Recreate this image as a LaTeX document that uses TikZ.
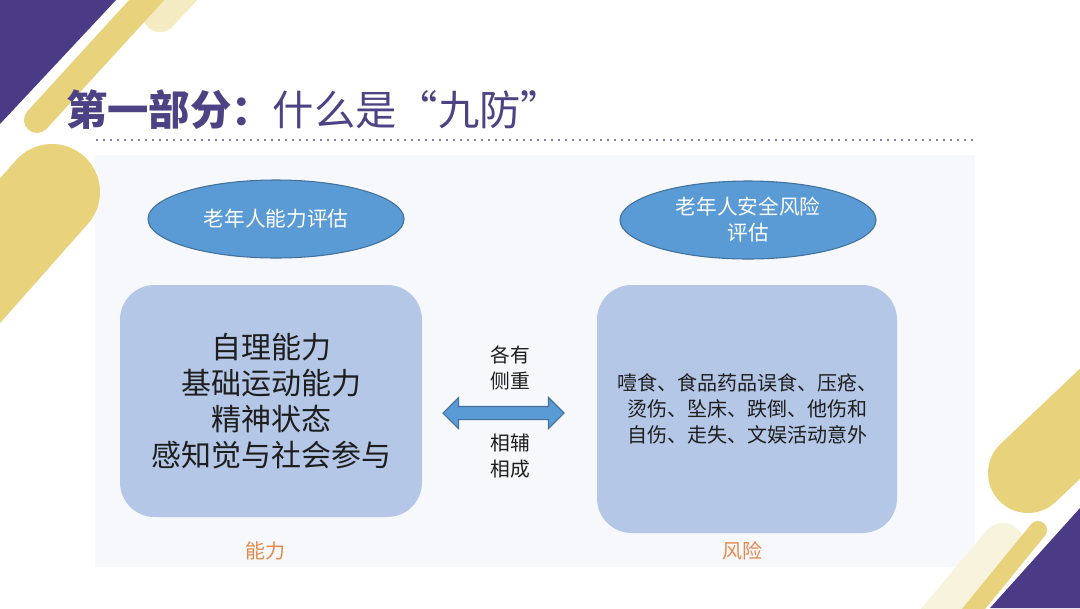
\documentclass[tikz,border=0pt]{standalone}
\usepackage{fontspec}
\setmainfont{Noto Sans CJK SC}
\usetikzlibrary{shapes.geometric,shapes.arrows}
\definecolor{purp}{HTML}{4B3A85}
\definecolor{yel}{HTML}{E8D37C}
\definecolor{paleyel}{HTML}{F4EBC2}
\definecolor{paleryel}{HTML}{F8F3DC}
\definecolor{panel}{HTML}{F7F8FB}
\definecolor{titlec}{HTML}{4D4284}
\definecolor{dotc}{HTML}{55557F}
\definecolor{ellfill}{HTML}{5B9BD5}
\definecolor{elldraw}{HTML}{41719C}
\definecolor{boxfill}{HTML}{B4C7E7}
\definecolor{orangec}{HTML}{E5894A}
\definecolor{textc}{HTML}{1E1E1E}
\tikzset{
  ell/.style={ellipse, fill=ellfill, draw=elldraw, line width=0.8pt, inner sep=0pt,
    minimum width=192pt, minimum height=58.5pt, text=white, align=center,
    font=\fontsize{15.5}{19.5}\selectfont},
  bigbox/.style={rectangle, rounded corners=26pt, fill=boxfill, inner sep=0pt, align=center, text=textc},
  midtext/.style={align=center, text=textc, font=\fontsize{14.8}{19.5}\selectfont},
  lbl/.style={text=orangec, font=\fontsize{15}{18}\selectfont},
  pill/.style={line cap=round}
}
\begin{document}
\begin{tikzpicture}[x=0.75pt,y=-0.75pt]
\useasboundingbox (0,0) rectangle (1080,608);
\fill[white] (0,0) rectangle (1080,608);
% panel
\fill[panel] (95,155) rectangle (975,567);
\begin{scope}
\clip (0,0) rectangle (1080,608);
% top-left decoration
\fill[purp] (0,0) -- (116,0) -- (0,124) -- cycle;
\draw[pill, paleyel, line width=25.5pt] (160,15) -- (240,-70);
\draw[pill, yel, line width=19.5pt] (37,120) -- (165,-20);
\draw[pill, yel, line width=72pt] (52,192) -- (-150,420);
% bottom-right decoration
\draw[pill, yel, line width=60pt] (1028,473) -- (1200,310);
\draw[pill, paleryel, line width=33pt] (1003,545) -- (890,680);
\draw[pill, yel, line width=13.5pt] (1038,530) -- (940,650);
\fill[purp] (1080,508) -- (1080,608) -- (990,608) -- cycle;
\end{scope}
% title and dotted rule
\node[anchor=west, text=titlec, inner sep=0pt, font=\fontsize{31}{34}\selectfont] (title) at (66,110) {\textbf{第一部分：}什么是“九防”};
\draw[dotc, line width=1.8pt, line cap=round, dash pattern=on 0pt off 5.25pt] (97,140) -- (975,140);
% ellipses
\node[ell] (e1) at (276,219) {老年人能力评估};
\node[ell] (e2) at (748,220) {老年人安全风险\\评估};
% boxes
\node[bigbox, minimum width=226.5pt, minimum height=174pt, font=\fontsize{22.5}{27}\selectfont] (b1) at (271,401)
  {自理能力\\基础运动能力\\精神状态\\感知觉与社会参与};
\node[bigbox, minimum width=225pt, minimum height=186pt, font=\fontsize{15}{19.5}\selectfont] (b2) at (747,409)
  {噎食、食品药品误食、压疮、\\烫伤、坠床、跌倒、他伤和\\自伤、走失、文娱活动意外};
% double arrow
\node[double arrow, fill=ellfill, draw=elldraw, line width=0.8pt, inner sep=4.5pt,
  minimum height=90.75pt, double arrow head extend=6.75pt, double arrow tip angle=90] (arr) at (503.5,413) {};
\node[midtext] (t1) at (510,368) {各有\\侧重};
\node[midtext] (t2) at (510,456.5) {相辅\\相成};
% labels
\node[lbl] (l1) at (265,551) {能力};
\node[lbl] (l2) at (742,551) {风险};
\end{tikzpicture}
\end{document}
